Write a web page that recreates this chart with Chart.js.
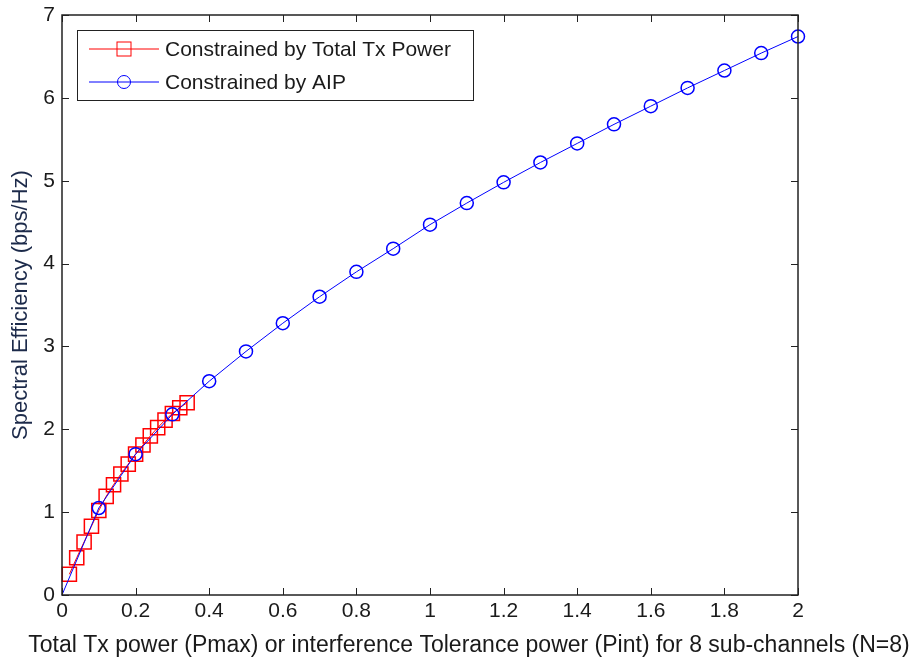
<!DOCTYPE html>
<html>
<head>
<meta charset="utf-8">
<script src="https://cdn.jsdelivr.net/npm/chart.js@4/dist/chart.umd.min.js"></script>
<style>
  body { margin: 0; background: #fff; }
</style>
</head>
<body>
<canvas id="seChart" width="912" height="662"></canvas>
<script>
// x ticks / y ticks
const xTickLabels = ['0', '0.2', '0.4', '0.6', '0.8', '1', '1.2', '1.4', '1.6', '1.8', '2'];
const yTickLabels = ['0', '1', '2', '3', '4', '5', '6', '7'];

// constrained by total Tx power (red squares)
const txX = [0.02, 0.04, 0.06, 0.08, 0.10, 0.12, 0.14, 0.16, 0.18, 0.20, 0.22, 0.24, 0.26, 0.28, 0.30, 0.32, 0.34];
const txY = [0.25, 0.45, 0.64, 0.83, 1.02, 1.19, 1.33, 1.46, 1.58, 1.70, 1.81, 1.92, 2.02, 2.11, 2.19, 2.26, 2.32];

// constrained by AIP (blue circles)
const aipX = [0, 0.1, 0.2, 0.3, 0.4, 0.5, 0.6, 0.7, 0.8, 0.9, 1.0, 1.1, 1.2, 1.3, 1.4, 1.5, 1.6, 1.7, 1.8, 1.9, 2.0];
const aipY = [0, 1.05, 1.70, 2.18, 2.58, 2.94, 3.28, 3.60, 3.90, 4.18, 4.47, 4.73, 4.98, 5.22, 5.45, 5.68, 5.90, 6.12, 6.33, 6.54, 6.74];

const seriesLabels = ['Constrained by Total Tx Power', 'Constrained by AIP'];
const xTitle = 'Total Tx power (Pmax) or interference Tolerance power (Pint) for 8 sub-channels (N=8)';

const FONT_FAMILY = "'Liberation Sans', Arial, sans-serif";
const TICK_FONT = { family: FONT_FAMILY, size: 21 };
const TEXT_COLOR = '#1a1a1a';

function toPoints(xs, ys) {
    return xs.map((x, i) => ({ x: x, y: ys[i] }));
}

// box around the plot + inward ticks on all four sides (matlab style)
const boxPlugin = {
    id: 'box',
    afterDatasetsDraw(chart) {
        const ctx = chart.ctx;
        const a = chart.chartArea;
        const xs = chart.scales.x, ys = chart.scales.y;
        const len = 7;
        ctx.save();
        ctx.strokeStyle = '#222';
        ctx.lineWidth = 1;
        ctx.beginPath();
        xs.ticks.forEach(t => {
            const px = Math.round(xs.getPixelForValue(t.value)) + 0.5;
            ctx.moveTo(px, a.bottom); ctx.lineTo(px, a.bottom - len);
            ctx.moveTo(px, a.top); ctx.lineTo(px, a.top + len);
        });
        ys.ticks.forEach(t => {
            const py = Math.round(ys.getPixelForValue(t.value)) + 0.5;
            ctx.moveTo(a.left, py); ctx.lineTo(a.left + len, py);
            ctx.moveTo(a.right, py); ctx.lineTo(a.right - len, py);
        });
        ctx.stroke();
        ctx.lineWidth = 1.5;
        ctx.strokeRect(a.left, a.top, a.right - a.left, a.bottom - a.top);

        // x axis title, wider than the axes so drawn here without maxWidth
        ctx.fillStyle = TEXT_COLOR;
        ctx.font = '23px ' + FONT_FAMILY;
        ctx.textAlign = 'center';
        ctx.textBaseline = 'middle';
        ctx.fillText(xTitle, 469, 646);
        ctx.restore();
    }
};

// legend box inside the plot, top-left
const legendPlugin = {
    id: 'boxLegend',
    afterDraw(chart) {
        const ctx = chart.ctx;
        const a = chart.chartArea;
        const bx = a.left + 15, by = a.top + 15, bw = 396, bh = 70;
        ctx.save();
        ctx.fillStyle = '#fff';
        ctx.fillRect(bx, by, bw, bh);
        ctx.strokeStyle = '#222';
        ctx.lineWidth = 1;
        ctx.strokeRect(bx + 0.5, by + 0.5, bw, bh);
        ctx.font = '21px ' + FONT_FAMILY;
        ctx.textBaseline = 'middle';
        const rows = [chart.data.datasets[0], chart.data.datasets[1]];
        rows.forEach((ds, i) => {
            const y = by + 19 + i * 33;
            ctx.strokeStyle = ds.borderColor;
            ctx.lineWidth = 1;
            ctx.beginPath();
            ctx.moveTo(bx + 12, y); ctx.lineTo(bx + 82, y);
            ctx.stroke();
            if (ds.pointStyle === 'rect') {
                ctx.strokeRect(bx + 40, y - 7, 14, 14);
            } else {
                ctx.beginPath();
                ctx.arc(bx + 47, y, 6.5, 0, Math.PI * 2);
                ctx.stroke();
            }
            ctx.fillStyle = TEXT_COLOR;
            ctx.fillText(ds.label, bx + 88, y + 1);
        });
        ctx.restore();
    }
};

const ctx = document.getElementById('seChart').getContext('2d');

const seChart = new Chart(ctx, {
    type: 'line',
    data: {
        datasets: [{
            label: seriesLabels[0],
            data: toPoints(txX, txY),
            borderColor: '#ff0000',
            backgroundColor: 'transparent',
            borderWidth: 1,
            pointStyle: 'rect',
            pointRadius: 10,
            pointBorderWidth: 1.5,
            pointBorderColor: '#ff0000',
            pointBackgroundColor: 'transparent',
            tension: 0,
            clip: false,
            order: 2
        }, {
            label: seriesLabels[1],
            data: toPoints(aipX, aipY),
            borderColor: '#0000ff',
            backgroundColor: 'transparent',
            borderWidth: 1,
            pointStyle: 'circle',
            pointRadius: c => (c.dataIndex === 0 ? 0 : 6.5),
            pointBorderWidth: 1.5,
            pointBorderColor: '#0000ff',
            pointBackgroundColor: 'transparent',
            tension: 0,
            clip: false,
            order: 1
        }]
    },
    options: {
        responsive: false,
        animation: false,
        layout: { padding: { top: 15, right: 114, bottom: 0, left: 0 } },
        plugins: {
            legend: { display: false },
            tooltip: { enabled: false }
        },
        scales: {
            x: {
                type: 'linear',
                min: 0,
                max: 2,
                afterFit: s => { s.height = 67; s.paddingLeft = 0; s.paddingRight = 0; },
                afterBuildTicks: s => { s.ticks = xTickLabels.map(v => ({ value: parseFloat(v) })); },
                ticks: {
                    color: TEXT_COLOR,
                    font: TICK_FONT,
                    padding: 4,
                    maxRotation: 0,
                    callback: (v, i) => xTickLabels[i]
                },
                grid: { display: false, drawTicks: false },
                border: { display: false },
                title: { display: false }
            },
            y: {
                type: 'linear',
                min: 0,
                max: 7,
                afterFit: s => { s.width = 62; s.paddingTop = 0; s.paddingBottom = 0; },
                afterBuildTicks: s => { s.ticks = yTickLabels.map(v => ({ value: parseFloat(v) })); },
                ticks: {
                    color: TEXT_COLOR,
                    font: TICK_FONT,
                    padding: 7,
                    callback: (v, i) => yTickLabels[i]
                },
                grid: { display: false, drawTicks: false },
                border: { display: false },
                title: {
                    display: true,
                    text: 'Spectral Efficiency (bps/Hz)',
                    color: '#1c2a4a',
                    font: { family: FONT_FAMILY, size: 22 },
                    padding: { top: 8, bottom: 0 }
                }
            }
        }
    },
    plugins: [boxPlugin, legendPlugin]
});
</script>
</body>
</html>
